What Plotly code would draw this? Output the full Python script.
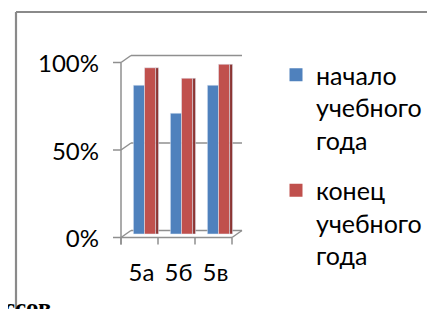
import plotly.graph_objects as go

categories = ["5а", "5б", "5в"]
series_names = ["начало<br>учебного<br>года", "конец<br>учебного<br>года"]
start_values = [0.85, 0.69, 0.85]
end_values = [0.95, 0.89, 0.97]
tick_values = [0, 0.5, 1]
tick_labels = ["0%", "50%", "100%"]

# the page body has an 8px margin, so the figure starts at (8, 8)
OFF = 8
W, H = 435 - OFF, 309 - OFF
# plot area (in page pixels): x 126..237, value 0 at y=234, value 1 at y=59
PX0, PX1 = 126, 237
PY0, PY1 = 234, 59
L = PX0 - OFF
R = W - (PX1 - OFF)
PW = PX1 - PX0
UNIT = PY0 - PY1          # pixels per 100 %
# full-height plot area (so the legend is not clipped); y range maps 0..1 to PY0..PY1
y_lo = -(H - (PY0 - OFF)) / UNIT
y_hi = 1 + (PY1 - OFF) / UNIT

DX, DY = 5, 3.5          # half depth of the 3D box
GRID = "#8f8f8f"
FONT = "Lato"

def px_x(p):
    return (p - OFF - L) / PW

def px_y(p):
    return (H - (p - OFF)) / H

def ypix(v):
    return PY0 - UNIT * v

fig = go.Figure()
fig.add_trace(go.Bar(x=categories, y=start_values, showlegend=False,
                     marker_color="#4F81BD", width=0.3, offset=-0.3,
                     hoverinfo="skip"))
fig.add_trace(go.Bar(x=categories, y=end_values, showlegend=False,
                     marker_color="#C0504D", width=0.3, offset=0.0,
                     hoverinfo="skip"))
# side faces of the red columns (3D look)
fig.add_trace(go.Bar(x=categories, y=end_values, showlegend=False,
                     marker_color="#8C3533", width=0.08, offset=0.3,
                     hoverinfo="skip"))
# legend entries
for name, col, grp in [(series_names[0], "#4F81BD", "a"),
                       (series_names[1], "#C0504D", "b")]:
    fig.add_trace(go.Scatter(x=[None], y=[None], mode="markers", name=name,
                             legendgroup=grp,
                             marker=dict(symbol="square", size=13, color=col),
                             hoverinfo="skip"))

shapes = []
def line(x0, y0, x1, y1, w=1.5, c=GRID):
    shapes.append(dict(type="line", xref="paper", yref="paper",
                       x0=px_x(x0), y0=px_y(y0), x1=px_x(x1), y1=px_y(y1),
                       line=dict(color=c, width=w), layer="below"))

x_front_left = PX0 - DX
x_back_left = PX0 + DX
x_front_right = PX1 - DX
x_back_right = PX1 + DX
for v in tick_values:
    yf = ypix(v) + DY
    yb = ypix(v) - DY
    line(x_front_left - 8, yf, x_front_left, yf)
    line(x_front_left, yf, x_back_left, yb)
    line(x_back_left, yb, x_back_right, yb)
# front left edge
line(x_front_left, ypix(1) + DY, x_front_left, ypix(0) + DY + 7)
# floor front edge and right diagonal
line(x_front_left, ypix(0) + DY, x_front_right, ypix(0) + DY)
line(x_front_right, ypix(0) + DY, x_back_right, ypix(0) - DY)
# category ticks
n = len(categories)
for i in range(n + 1):
    xp = PX0 + PW * i / n - DX
    line(xp, ypix(0) + DY, xp, ypix(0) + DY + 7)
# chart frame
line(16, 312, 16, 12, w=2.2, c="#8a8a8a")
line(16, 12, 438, 12, w=2.2, c="#8a8a8a")

fig.update_layout(
    width=W, height=H,
    margin=dict(l=L, r=R, t=0, b=0, pad=0, autoexpand=False),
    paper_bgcolor="white", plot_bgcolor="white",
    barmode="overlay",
    shapes=shapes,
    font=dict(family=FONT, color="#000000", size=24),
    legend=dict(x=px_x(276), y=px_y(52), xanchor="left", yanchor="top",
                valign="top", tracegroupgap=15, font=dict(size=25),
                bgcolor="rgba(0,0,0,0)"),
    xaxis=dict(range=[-0.5, 2.5], showgrid=False, zeroline=False,
               showline=False, ticks="", fixedrange=True,
               anchor="free", position=px_y(PY0),
               ticklabelshift=-3, ticklabelstandoff=22,
               tickfont=dict(size=24, family=FONT)),
    yaxis=dict(range=[y_lo, y_hi], showgrid=False, zeroline=False,
               showline=False, ticks="", tickvals=tick_values,
               ticktext=tick_labels, fixedrange=True,
               ticklabelshift=5, ticklabelstandoff=26,
               tickfont=dict(size=24, family=FONT)),
    annotations=[dict(text="<b>классов</b>", xref="paper", yref="paper",
                      x=px_x(54), y=px_y(307), xanchor="right", yanchor="middle",
                      showarrow=False,
                      font=dict(family="Liberation Serif", size=25, color="#000"))],
)

fig.write_html("out.html")
